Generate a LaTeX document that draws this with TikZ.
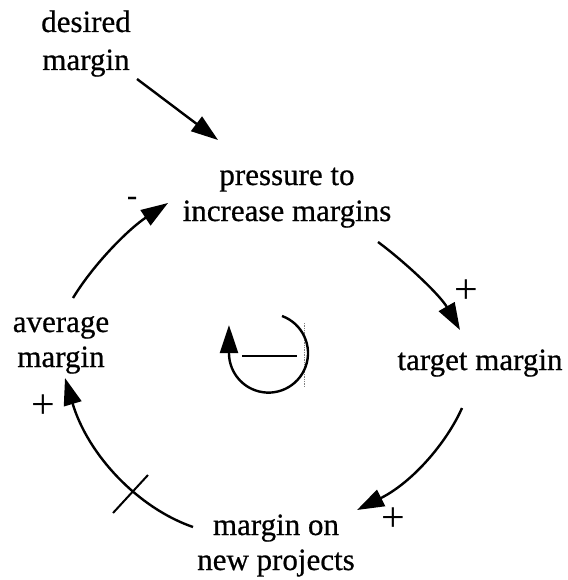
\documentclass[tikz,border=0pt]{standalone}
\usepackage{fontspec}
\setmainfont{Liberation Serif}[FakeBold=0.6]
\newfontfamily\signfont{Liberation Serif}
\usetikzlibrary{arrows.meta,calc}
\begin{document}
\begin{tikzpicture}[x=1pt,y=-1pt,
  lbl/.style={align=center, inner sep=0pt, anchor=base},
  sgn/.style={font=\signfont\fontsize{42}{44}\selectfont, inner sep=0pt},
  conn/.style={line width=2.4pt, -{Triangle[length=27pt,width=18pt]}},
]
\useasboundingbox (0,0) rectangle (567,580);
\fill[white] (0,0) rectangle (567,580);
% labels (base anchor = baseline of the last line)
\node[lbl,font=\fontsize{31}{38}\selectfont] (desired) at (86,70) {desired\\margin};
\node[lbl,font=\fontsize{31}{36}\selectfont] (press) at (287,221) {pressure to\\increase margins};
\node[lbl,font=\fontsize{31}{36}\selectfont] (target) at (480,370) {target margin};
\node[lbl,font=\fontsize{31}{35}\selectfont] (newproj) at (276,570) {margin on\\new projects};
\node[lbl,font=\fontsize{31}{35}\selectfont] (avg) at (61,367) {average\\margin};
% polarity signs
\node[sgn] (s1) at (466,292) {+};
\node[sgn] (s2) at (393,520) {+};
\node[sgn] (s3) at (43,407) {+};
\node[font=\fontsize{30}{36}\selectfont, inner sep=0pt] (s4) at (132,201) {-};
% connectors
\draw[conn] ($(desired.base)+(51,9)$) -- ($(press.base)+(-69,-81)$);
\draw[conn] ($(press.base)+(91,21)$) .. controls (405,262) and (440,295) .. ($(target.base)+(-20,-40)$);
\draw[conn] ($(target.base)+(-18,38)$) .. controls (447,442) and (413,482) .. ($(newproj.base)+(81,-60)$);
\draw[conn] ($(newproj.base)+(-83,-43)$) .. controls (138,508) and (88,455) .. ($(avg.base)+(4,11)$);
\draw[conn] ($(avg.base)+(12,-69)$) .. controls (95,262) and (130,228) .. ($(press.base)+(-119,-18)$);
% delay mark
\draw[line width=2pt] (113,513) -- (148,475);
% loop symbol
\draw[gray, line width=0.7pt, densely dotted] (304,323) -- (304,387);
\draw[conn, -{Triangle[length=28pt,width=18pt]}] (282,316) arc[start angle=-70, end angle=180, radius=39.5] -- ++(0,-28);
\draw[line width=2.8pt] (242,356) -- (297,356);
\end{tikzpicture}
\end{document}
